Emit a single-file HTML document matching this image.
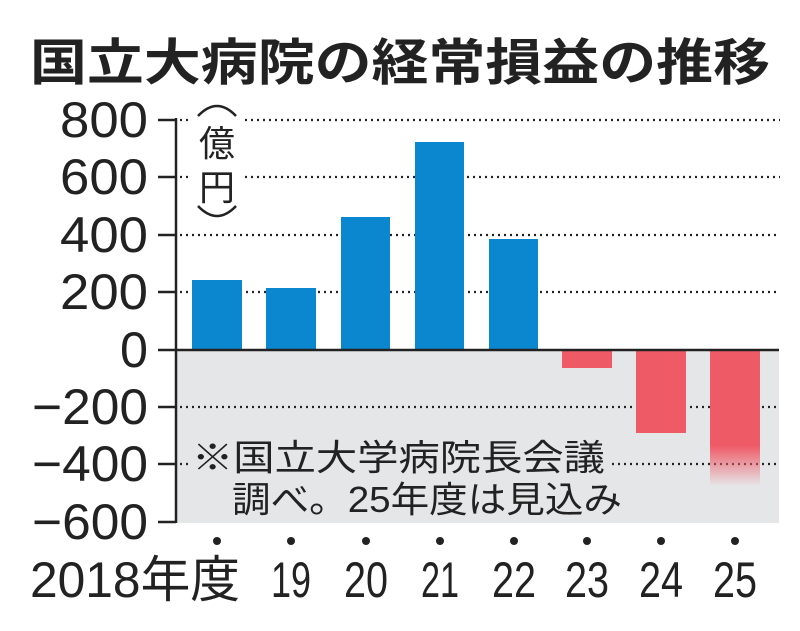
<!DOCTYPE html>
<html><head><meta charset="utf-8"><style>
body{margin:0;background:#fff;width:800px;height:626px;overflow:hidden}
text{font-family:"Liberation Sans","Noto Sans CJK JP",sans-serif;fill:#222}
</style></head><body>
<svg width="800" height="626" viewBox="0 0 800 626" xmlns="http://www.w3.org/2000/svg">
<defs><linearGradient id="fd" x1="0" y1="0" x2="0" y2="1">
<stop offset="0" stop-color="#ef5a67"/><stop offset="0.7" stop-color="#ef5a67"/><stop offset="1" stop-color="#ef5a67" stop-opacity="0"/></linearGradient></defs>
<text x="400" y="80" text-anchor="middle" font-size="50" font-weight="bold" style="font-family:'Noto Sans CJK JP',sans-serif" textLength="740" lengthAdjust="spacingAndGlyphs">国立大病院の経常損益の推移</text>
<rect x="176" y="350" width="603" height="173" fill="#e5e6e8"/>
<g stroke="#222" stroke-width="2.2" stroke-dasharray="2 4">
<line x1="180" y1="120" x2="192" y2="120"/><line x1="245" y1="120" x2="780" y2="120"/>
<line x1="180" y1="177" x2="192" y2="177"/><line x1="245" y1="177" x2="780" y2="177"/>
<line x1="180" y1="235" x2="780" y2="235"/>
<line x1="180" y1="292" x2="780" y2="292"/>
<line x1="180" y1="407" x2="780" y2="407"/>
<line x1="180" y1="464" x2="188" y2="464"/><line x1="612" y1="464" x2="780" y2="464"/>
</g>
<g fill="#0a87cf">
<rect x="192" y="280" width="50" height="70"/>
<rect x="266" y="288" width="50" height="62"/>
<rect x="341" y="217" width="49" height="133"/>
<rect x="415" y="142" width="49" height="208"/>
<rect x="489" y="239" width="49" height="111"/>
</g>
<rect x="562" y="350" width="50" height="18" fill="#ef5a67"/>
<rect x="636" y="350" width="50" height="83" fill="#ef5a67"/>
<rect x="710" y="350" width="50" height="136" fill="url(#fd)"/>
<g stroke="#222" stroke-width="2.5">
<line x1="176" y1="118" x2="176" y2="523"/>
<line x1="158" y1="350" x2="779" y2="350"/>
<line x1="158" y1="120" x2="176" y2="120"/><line x1="158" y1="177" x2="176" y2="177"/>
<line x1="158" y1="235" x2="176" y2="235"/><line x1="158" y1="292" x2="176" y2="292"/>
<line x1="158" y1="407" x2="176" y2="407"/><line x1="158" y1="464" x2="176" y2="464"/>
<line x1="158" y1="522" x2="176" y2="522"/>
</g>
<g font-size="50" text-anchor="end">
<text x="148" y="137" textLength="88" lengthAdjust="spacingAndGlyphs">800</text>
<text x="148" y="194" textLength="88" lengthAdjust="spacingAndGlyphs">600</text>
<text x="148" y="252" textLength="88" lengthAdjust="spacingAndGlyphs">400</text>
<text x="148" y="309" textLength="88" lengthAdjust="spacingAndGlyphs">200</text>
<text x="148" y="367" textLength="28" lengthAdjust="spacingAndGlyphs">0</text>
<text x="148" y="424" textLength="116" lengthAdjust="spacingAndGlyphs">−200</text>
<text x="148" y="481" textLength="116" lengthAdjust="spacingAndGlyphs">−400</text>
<text x="148" y="539" textLength="116" lengthAdjust="spacingAndGlyphs">−600</text>
</g>
<g fill="none" stroke="#222" stroke-width="2.5">
<path d="M198 116 Q217 96 236 116"/>
<path d="M198 206 Q217 226 236 206"/>
</g>
<g font-size="36" text-anchor="middle">
<text x="217" y="156">億</text><text x="217" y="200">円</text>
</g>
<text x="192" y="470" font-size="36" textLength="413" lengthAdjust="spacingAndGlyphs">※国立大学病院長会議</text>
<text x="232" y="512" font-size="36" textLength="390" lengthAdjust="spacingAndGlyphs">調べ。25年度は見込み</text>
<g fill="#222">
<circle cx="217" cy="541" r="4"/><circle cx="291" cy="541" r="4"/><circle cx="366" cy="541" r="4"/>
<circle cx="440" cy="541" r="4"/><circle cx="514" cy="541" r="4"/><circle cx="587" cy="541" r="4"/>
<circle cx="661" cy="541" r="4"/><circle cx="735" cy="541" r="4"/>
</g>
<g font-size="50" text-anchor="middle">
<text x="135" y="597" textLength="210" lengthAdjust="spacingAndGlyphs">2018年度</text>
<text x="291" y="597" textLength="40" lengthAdjust="spacingAndGlyphs">19</text>
<text x="366" y="597" textLength="44" lengthAdjust="spacingAndGlyphs">20</text>
<text x="440" y="597" textLength="38" lengthAdjust="spacingAndGlyphs">21</text>
<text x="514" y="597" textLength="44" lengthAdjust="spacingAndGlyphs">22</text>
<text x="587" y="597" textLength="44" lengthAdjust="spacingAndGlyphs">23</text>
<text x="661" y="597" textLength="44" lengthAdjust="spacingAndGlyphs">24</text>
<text x="735" y="597" textLength="44" lengthAdjust="spacingAndGlyphs">25</text>
</g>
</svg>
</body></html>
